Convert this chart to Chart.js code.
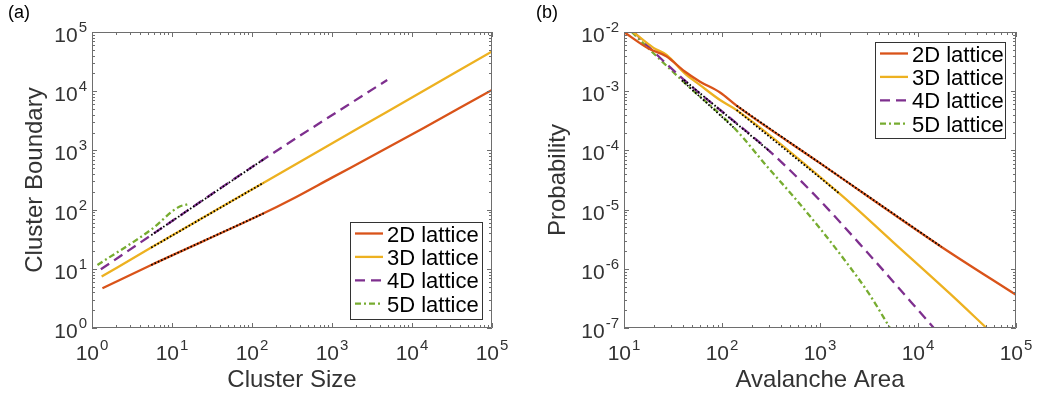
<!DOCTYPE html>
<html>
<head>
<meta charset="utf-8">
<script src="https://cdn.jsdelivr.net/npm/chart.js@4/dist/chart.umd.min.js"></script>
<style>
  html, body { margin: 0; padding: 0; background: #fff; }
  #wrap { position: relative; width: 1037px; height: 397px; overflow: hidden; }
  canvas { position: absolute; top: 0; }
  #cA { left: 0; }
  #cB { left: 518px; }
</style>
</head>
<body>
<div id="wrap">
  <canvas id="cA" width="518" height="397"></canvas>
  <canvas id="cB" width="519" height="397"></canvas>
</div>
<script>
// ---------- (a) cluster boundary vs cluster size ----------
const size2D  = [1.35, 5.5, 140, 302, 1000, 4030, 14000, 36300, 100000];
const bound2D = [4.7, 11.6, 86.5, 145, 347, 955, 2400, 4900, 10500];
const size3D  = [1.32, 5.5, 140, 785, 4900, 100000];
const bound3D = [7.4, 22.8, 285, 1090, 4500, 46800];
const size4D  = [1.29, 5.5, 140, 4900];
const bound4D = [9.8, 37, 708, 15500];
const size5D  = [1.17, 5.56, 12, 16];
const bound5D = [11.6, 46.5, 110, 124];
// power-law fits over the scaling range
const fitSize   = [5.5, 140];
const fitBound2D = [11.6, 86.5];
const fitBound3D = [22.8, 285];
const fitBound4D = [37, 708];

// ---------- (b) avalanche area distribution ----------
const area2D = [10, 18, 27, 41.7, 59.7, 95.5, 141, 1000, 17400, 100000];
const prob2D = [1.0e-2, 5.2e-3, 3.9e-3, 2.15e-3, 1.45e-3, 9.5e-4, 5.7e-4, 6.1e-5, 2.34e-6, 3.63e-7];
const area3D = [12.4, 20, 27.2, 41.7, 59.7, 95.5, 141, 1585, 5600, 21200, 50000];
const prob3D = [1.0e-2, 5.4e-3, 4.1e-3, 2.0e-3, 1.27e-3, 7.1e-4, 4.8e-4, 1.86e-5, 2.8e-6, 3.8e-7, 1.0e-7];
const area4D = [12.6, 20, 41, 309, 851, 2880, 14500];
const prob4D = [1.0e-2, 4.68e-3, 1.55e-3, 9.55e-5, 1.88e-5, 2.09e-6, 1.0e-7];
const area5D = [12, 20, 41.7, 135, 288, 537, 1000, 1780, 3160, 5180];
const prob5D = [1.0e-2, 4.37e-3, 1.38e-3, 2.34e-4, 5.37e-5, 1.66e-5, 4.8e-6, 1.41e-6, 3.8e-7, 1.0e-7];
const fitArea2D = [141, 17400],  fitProb2D = [5.7e-4, 2.34e-6];
const fitArea3D = [141, 1585],   fitProb3D = [4.8e-4, 1.86e-5];
const fitArea4D = [41, 309],     fitProb4D = [1.55e-3, 9.55e-5];
const fitArea5D = [38.9, 135],   fitProb5D = [1.53e-3, 2.34e-4];

const seriesNames = ['2D lattice', '3D lattice', '4D lattice', '5D lattice'];

const FF = '"Liberation Sans", Arial, Helvetica, sans-serif';
const TXT = '#333333';
const AXIS = '#6e6e6e';
const COL = ['#D95319', '#EDB120', '#7E2F8E', '#77AC30'];
const DASH = [[], [], [10, 6], [6, 3, 2, 3]];

const pts = (xs, ys) => xs.map((x, i) => ({ x, y: ys[i] }));

function curve(i, xs, ys) {
  return {
    label: seriesNames[i], data: pts(xs, ys),
    borderColor: COL[i], borderWidth: 2.3, borderDash: DASH[i],
    pointRadius: 0, fill: false, cubicInterpolationMode: 'monotone'
  };
}
function fitLine(xs, ys) {
  return {
    label: '', data: pts(xs, ys), order: -1,
    borderColor: '#000', borderWidth: 1.8, borderDash: [1.6, 2],
    pointRadius: 0, fill: false, tension: 0
  };
}

function powLabel(ctx, exp, x, y, align) {
  const base = '10', sup = String(exp);
  ctx.font = '21px ' + FF;
  const wb = ctx.measureText(base).width;
  ctx.font = '15px ' + FF;
  const ws = ctx.measureText(sup).width;
  const total = wb + 1 + ws;
  const left = align === 'right' ? x - total : x - total / 2;
  ctx.textAlign = 'left';
  ctx.textBaseline = 'alphabetic';
  ctx.font = '21px ' + FF;
  ctx.fillText(base, left, y);
  ctx.font = '15px ' + FF;
  ctx.fillText(sup, left + wb + 1, y - 10);
}

const framePlugin = {
  id: 'frame',
  afterDatasetsDraw(chart, args, o) {
    const ctx = chart.ctx, xs = chart.scales.x, ys = chart.scales.y;
    const a = chart.chartArea;
    const L = Math.round(a.left), R = Math.round(a.right), T = Math.round(a.top), B = Math.round(a.bottom);
    ctx.save();
    ctx.strokeStyle = AXIS;
    ctx.lineWidth = 1;
    ctx.beginPath();
    ctx.rect(L + 0.5, T + 0.5, R - L - 1, B - T - 1);
    ctx.stroke();

    // tick marks, mirrored on all four sides
    const xd = [Math.round(Math.log10(xs.min)), Math.round(Math.log10(xs.max))];
    const yd = [Math.round(Math.log10(ys.min)), Math.round(Math.log10(ys.max))];
    ctx.beginPath();
    for (let d = xd[0]; d <= xd[1]; d++) {
      for (let k = 1; k <= 9; k++) {
        if (d === xd[1] && k > 1) break;
        const v = k * Math.pow(10, d);
        const p = Math.round(xs.getPixelForValue(v)) + 0.5;
        const len = k === 1 ? 5 : 3;
        ctx.moveTo(p, B); ctx.lineTo(p, B - len);
        ctx.moveTo(p, T); ctx.lineTo(p, T + len);
      }
    }
    for (let d = yd[0]; d <= yd[1]; d++) {
      for (let k = 1; k <= 9; k++) {
        if (d === yd[1] && k > 1) break;
        const v = k * Math.pow(10, d);
        const p = Math.round(ys.getPixelForValue(v)) + 0.5;
        const len = k === 1 ? 5 : 3;
        ctx.moveTo(L, p); ctx.lineTo(L + len, p);
        ctx.moveTo(R, p); ctx.lineTo(R - len, p);
      }
    }
    ctx.stroke();

    // tick labels
    ctx.fillStyle = TXT;
    for (let d = xd[0]; d <= xd[1]; d++) {
      powLabel(ctx, d, xs.getPixelForValue(Math.pow(10, d)), B + 32, 'center');
    }
    for (let d = yd[0]; d <= yd[1]; d++) {
      powLabel(ctx, d, L - 5, ys.getPixelForValue(Math.pow(10, d)) + 10, 'right');
    }

    // axis titles and panel tag
    ctx.font = '24px ' + FF;
    ctx.textAlign = 'center';
    ctx.textBaseline = 'alphabetic';
    ctx.fillText(o.xTitle, (L + R) / 2, B + 59);
    ctx.save();
    ctx.translate(o.yTitleX, (T + B) / 2);
    ctx.rotate(-Math.PI / 2);
    ctx.fillText(o.yTitle, 0, 0);
    ctx.restore();
    ctx.font = '18px ' + FF;
    ctx.textAlign = 'left';
    ctx.fillStyle = '#000';
    ctx.fillText(o.tag, o.tagX, 18);
    ctx.restore();
  },
  afterDraw(chart, args, o) {
    const ctx = chart.ctx, a = chart.chartArea;
    const items = chart.data.datasets.filter(ds => ds.label);
    const w = o.legend.w, h = o.legend.h;
    const x0 = a.right - o.legend.dx - w;
    const y0 = o.legend.corner === 'bottom' ? a.bottom - o.legend.dy - h : a.top + o.legend.dy;
    ctx.save();
    ctx.fillStyle = '#fff';
    ctx.fillRect(x0, y0, w, h);
    ctx.strokeStyle = TXT;
    ctx.lineWidth = 1;
    ctx.strokeRect(Math.round(x0) + 0.5, Math.round(y0) + 0.5, w, h);
    ctx.font = '22px ' + FF;
    ctx.textBaseline = 'alphabetic';
    ctx.textAlign = 'left';
    items.forEach((ds, i) => {
      const cy = y0 + 11.5 + i * 23.4;
      ctx.strokeStyle = ds.borderColor;
      ctx.lineWidth = 2.3;
      ctx.setLineDash(ds.borderDash || []);
      ctx.beginPath();
      ctx.moveTo(x0 + 5, cy);
      ctx.lineTo(x0 + 33, cy);
      ctx.stroke();
      ctx.setLineDash([]);
      ctx.fillStyle = '#000';
      ctx.fillText(ds.label, x0 + 37, cy + 8);
    });
    ctx.restore();
  }
};

// the frame plugin draws all axis decorations, so the scales take no room
function logAxis(min, max, horizontal) {
  return {
    type: 'logarithmic', min, max, display: false,
    grid: { display: false }, border: { display: false },
    ticks: { display: false },
    afterFit(scale) {
      if (horizontal) scale.height = 0; else scale.width = 0;
      scale.paddingLeft = scale.paddingRight = scale.paddingTop = scale.paddingBottom = 0;
    }
  };
}

function makeChart(id, datasets, xr, yr, pad, frameOpts) {
  return new Chart(document.getElementById(id), {
    type: 'line',
    data: { datasets },
    options: {
      responsive: false, animation: false, devicePixelRatio: 1,
      layout: { padding: pad },
      scales: { x: logAxis(xr[0], xr[1], true), y: logAxis(yr[0], yr[1], false) },
      plugins: { legend: { display: false }, tooltip: { enabled: false }, frame: frameOpts }
    },
    plugins: [framePlugin]
  });
}

makeChart('cA', [
  fitLine(fitSize, fitBound2D),
  fitLine(fitSize, fitBound3D),
  fitLine(fitSize, fitBound4D),
  curve(0, size2D, bound2D),
  curve(1, size3D, bound3D),
  curve(2, size4D, bound4D),
  curve(3, size5D, bound5D)
], [1, 1e5], [1, 1e5], { left: 92, right: 26, top: 32, bottom: 69 }, {
  xTitle: 'Cluster Size', yTitle: 'Cluster Boundary', yTitleX: 42, tag: '(a)', tagX: 8,
  legend: { w: 132, h: 97, dx: 10, dy: 9, corner: 'bottom' }
});

makeChart('cB', [
  fitLine(fitArea2D, fitProb2D),
  fitLine(fitArea3D, fitProb3D),
  fitLine(fitArea4D, fitProb4D),
  fitLine(fitArea5D, fitProb5D),
  curve(0, area2D, prob2D),
  curve(1, area3D, prob3D),
  curve(2, area4D, prob4D),
  curve(3, area5D, prob5D)
], [10, 1e5], [1e-7, 1e-2], { left: 106, right: 21, top: 32, bottom: 69 }, {
  xTitle: 'Avalanche Area', yTitle: 'Probability', yTitleX: 47, tag: '(b)', tagX: 18,
  legend: { w: 130, h: 96, dx: 11, dy: 10, corner: 'top' }
});
</script>
</body>
</html>
